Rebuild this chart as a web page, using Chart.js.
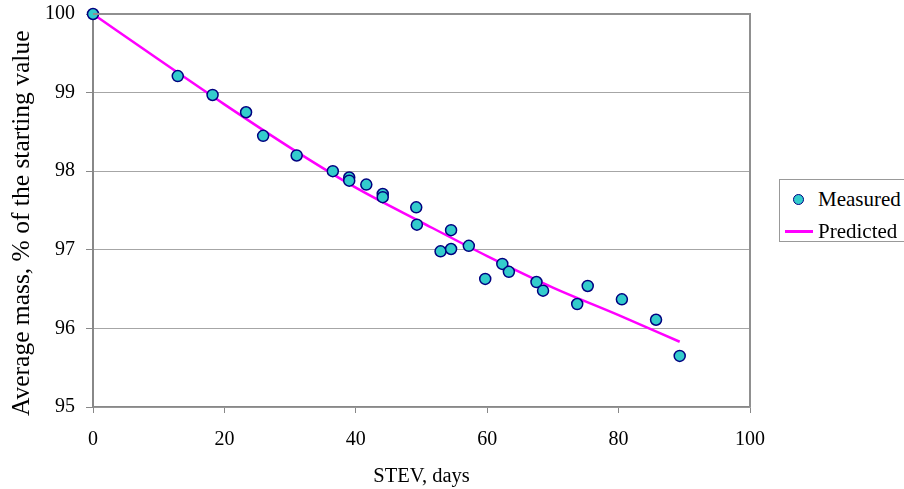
<!DOCTYPE html>
<html>
<head>
<meta charset="utf-8">
<script src="https://cdn.jsdelivr.net/npm/chart.js@4"></script>
<style>
  html, body { margin: 0; padding: 0; background: #fff; overflow: hidden; }
  #wrap { position: relative; width: 904px; height: 489px; }
  #legend {
    position: absolute; left: 779px; top: 179px; width: 150px; height: 61px;
    border: 1px solid #999; background: #fff;
    font-family: "Liberation Serif", "Times New Roman", serif; font-size: 21px; color: #000;
  }
  .item { position: absolute; left: 0; width: 150px; height: 24px; line-height: 24px; }
  .item span { position: absolute; left: 38px; white-space: nowrap; }
  .dot { position: absolute; left: 13px; top: 7px; width: 9px; height: 9px; border-radius: 50%;
         background: #33cccc; border: 1.5px solid #000080; }
  .seg { position: absolute; left: 5px; top: 11px; width: 28px; height: 2.5px; background: #ff00ff; }
</style>
</head>
<body>
<div id="wrap">
  <canvas id="chart" width="904" height="489"></canvas>
  <div id="legend">
    <div class="item" style="top:7px"><div class="dot"></div><span>Measured</span></div>
    <div class="item" style="top:39px"><div class="seg"></div><span>Predicted</span></div>
  </div>
</div>
<script>
// measured points
const measuredDays = [0, 12.9, 18.2, 23.3, 25.9, 31.0, 36.5, 39.0, 39.0, 41.6, 44.1, 44.1, 49.2, 49.3,
    52.9, 54.5, 54.5, 57.2, 59.7, 62.3, 63.3, 67.5, 68.5, 73.7, 75.3, 80.5, 85.7, 89.3];
const measuredMass = [100, 99.21, 98.97, 98.75, 98.45, 98.20, 98.00, 97.92, 97.88, 97.83, 97.71, 97.67, 97.54, 97.32,
    96.98, 97.25, 97.01, 97.05, 96.63, 96.82, 96.72, 96.59, 96.48, 96.31, 96.54, 96.37, 96.11, 95.65];

// predicted curve
const predictedDays = [0, 10, 20, 30, 40, 50, 60, 70, 80, 89.3];
const predictedMass = [100, 99.42, 98.85, 98.30, 97.79, 97.35, 96.92, 96.52, 96.17, 95.83];

const xTicks = [0, 20, 40, 60, 80, 100];
const yTicks = [95, 96, 97, 98, 99, 100];

const serif = 'Liberation Serif';

const plotFrame = {
    id: 'plotFrame',
    afterDatasetsDraw(chart) {
        const { ctx, chartArea: a } = chart;
        ctx.save();
        ctx.strokeStyle = '#909090';
        ctx.lineWidth = 2;
        ctx.beginPath();
        ctx.moveTo(a.left, a.top);
        ctx.lineTo(a.right, a.top);
        ctx.lineTo(a.right, a.bottom);
        ctx.stroke();
        ctx.restore();
    }
};

const ctx = document.getElementById('chart').getContext('2d');
new Chart(ctx, {
    type: 'scatter',
    data: {
        datasets: [
            {
                label: 'Measured',
                data: measuredDays.map((d, i) => ({ x: d, y: measuredMass[i] })),
                backgroundColor: '#33cccc',
                borderColor: '#000080',
                borderWidth: 1.5,
                pointRadius: 5.5,
                clip: false,
            },
            {
                label: 'Predicted',
                data: predictedDays.map((d, i) => ({ x: d, y: predictedMass[i] })),
                showLine: true,
                borderColor: '#ff00ff',
                borderWidth: 2.5,
                pointRadius: 0,
                cubicInterpolationMode: 'monotone',
                clip: false,
            },
        ],
    },
    options: {
        responsive: false,
        animation: false,
        layout: { padding: { top: 14, right: 154, left: 0, bottom: 0 } },
        plugins: { legend: { display: false }, tooltip: { enabled: false } },
        scales: {
            x: {
                type: 'linear',
                min: 0,
                max: 100,
                afterFit: (s) => { s.height = 82; s.paddingLeft = 0; s.paddingRight = 0; },
                afterBuildTicks: (s) => { s.ticks = xTicks.map((v) => ({ value: v })); },
                grid: { drawOnChartArea: false, drawTicks: true, tickLength: 6, tickColor: '#888' },
                border: { color: '#888', width: 1.5 },
                ticks: { color: '#000', padding: 15, maxRotation: 0, font: { family: serif, size: 20 } },
                title: {
                    display: true,
                    text: 'STEV, days',
                    color: '#000',
                    padding: { top: 1, bottom: 0 },
                    font: { family: serif, size: 20.5 },
                },
            },
            y: {
                min: 95,
                max: 100,
                afterFit: (s) => { s.width = 93; s.paddingTop = 0; s.paddingBottom = 0; },
                afterBuildTicks: (s) => { s.ticks = yTicks.map((v) => ({ value: v })); },
                grid: { color: '#a6a6a6', lineWidth: 1, drawTicks: true, tickLength: 7, tickColor: '#888' },
                border: { color: '#888', width: 2 },
                ticks: { color: '#000', padding: 11, font: { family: serif, size: 20 } },
                title: {
                    display: true,
                    // trailing spaces nudge the centred title down a bit, like the original
                    text: 'Average mass, % of the starting value\u00a0\u00a0\u00a0\u00a0',
                    color: '#000',
                    padding: { top: 7, bottom: 0 },
                    font: { family: serif, size: 25.5 },
                },
            },
        },
    },
    plugins: [plotFrame],
});
</script>
</body>
</html>
